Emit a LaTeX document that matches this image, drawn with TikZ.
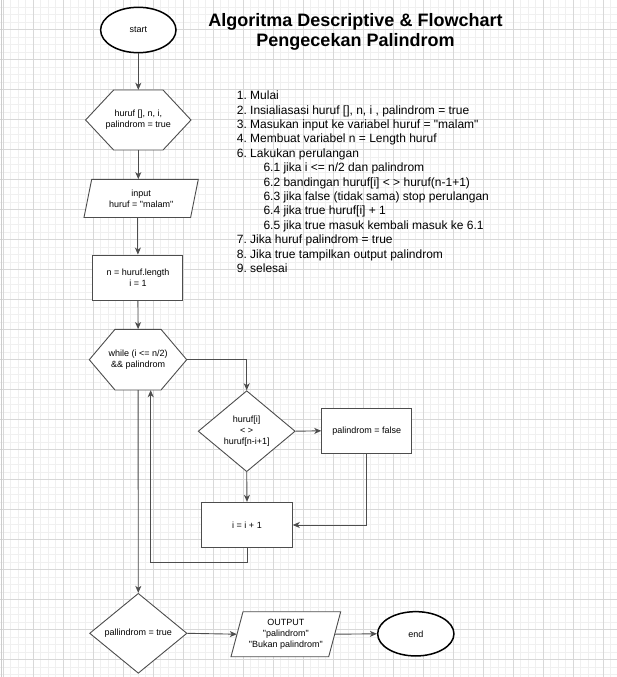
\documentclass[tikz,border=0pt]{standalone}
\usepackage{fontspec}
\setmainfont{Liberation Sans}
\usetikzlibrary{shapes.geometric,arrows.meta,calc}
\definecolor{lnc}{HTML}{4D4D4D}
\definecolor{gmin}{HTML}{F0F0F0}
\definecolor{gmaj}{HTML}{D8D8D8}
\frenchspacing
\begin{document}
\begin{tikzpicture}[x=1pt,y=-1pt,
  conn/.style={draw=lnc, line width=0.9pt, -{Stealth[length=7pt,width=6pt,inset=2pt]}},
  shp/.style={draw=lnc, line width=0.9pt, fill=white},
  txt/.style={font=\fontsize{9}{10.8}\selectfont, align=center, inner sep=0pt},
  term/.style={ellipse, draw=black, line width=1.5pt, fill=white, txt},
  procbox/.style={rectangle, shp, txt},
  decbox/.style={diamond, shp, txt},
  minorline/.style={draw=gmin, line width=0.8pt},
  majorline/.style={draw=gmaj, line width=0.8pt}
]
\useasboundingbox (0,0) rectangle (617,677);
\fill[white] (0,0) rectangle (617,677);
% grid
\foreach \k in {0,...,81} {\draw[minorline] ({3.3+7.5*\k},0) -- ({3.3+7.5*\k},677);}
\foreach \k in {1,...,90} {\draw[minorline] (0,{-0.5+7.5*\k}) -- (617,{-0.5+7.5*\k});}
\foreach \k in {0,...,20} {\draw[majorline] ({3.3+30*\k},0) -- ({3.3+30*\k},677);}
\foreach \k in {1,...,22} {\draw[majorline] (0,{-0.5+30*\k}) -- (617,{-0.5+30*\k});}
\draw[draw=gray!40, line width=1.2pt] (1.2,0) -- (1.2,677);

% title
\node[font=\bfseries\fontsize{18}{20.5}\selectfont, align=center, anchor=north, inner sep=0pt] (title) at (355.5,12.8)
  {Algoritma Descriptive \& Flowchart\\Pengecekan Palindrom};

% description
\node[anchor=north west, inner sep=0pt, align=left, font=\fontsize{12}{14.4}\selectfont] (desc) at (236.7,90.8)
  {1. Mulai\\
   2. Insialiasasi huruf [], n, i , palindrom = true\\
   3. Masukan input ke variabel huruf = \textquotedbl malam\textquotedbl\\
   4. Membuat variabel n = Length huruf\\
   6. Lakukan perulangan\\
   \hspace*{26.6pt}6.1 jika i <= n/2 dan palindrom\\
   \hspace*{26.6pt}6.2 bandingan huruf[i] < > huruf(n-1+1)\\
   \hspace*{26.6pt}6.3 jika false (tidak sama) stop perulangan\\
   \hspace*{26.6pt}6.4 jika true huruf[i] + 1\\
   \hspace*{26.6pt}6.5 jika true masuk kembali masuk ke 6.1\\
   7. Jika huruf palindrom = true\\
   8. Jika true tampilkan output palindrom\\
   9. selesai};

% start
\node[term, minimum width=75.4pt, minimum height=45.4pt] (start) at (138.3,30) {start};

% init hexagon
\draw[shp] (85.6,120) -- (113.6,90) -- (163,90) -- (191,120) -- (163,150) -- (113.6,150) -- cycle;
\node[txt, minimum width=105.4pt, minimum height=60pt] (init) at (138.3,120) {huruf [], n, i,\\palindrom = true};

% input parallelogram
\draw[shp] (91.7,179.3) -- (198.3,179.3) -- (190.6,217.5) -- (84,217.5) -- cycle;
\node[txt, minimum width=106.6pt, minimum height=38.2pt] (inp) at (141.2,198.4) {input\\huruf = \textquotedbl malam\textquotedbl};

% length box
\node[procbox, minimum width=90pt, minimum height=45pt] (len) at (137.9,277.5) {n = huruf.length\\i = 1};

% while hexagon
\draw[shp] (89.3,359.7) -- (115,329.3) -- (161,329.3) -- (186.7,359.7) -- (161,390) -- (115,390) -- cycle;
\node[txt, minimum width=97.4pt, minimum height=60.7pt] (loop) at (138.1,359.65) {while (i <= n/2)\\\&\& palindrom};

% compare diamond
\node[decbox, minimum width=97pt, minimum height=81pt] (cmp) at (246.7,431.2) {huruf[i]\\< >\\huruf[n-i+1]};

% palindrom = false
\node[procbox, minimum width=90pt, minimum height=45pt] (pfalse) at (366.7,430.8) {palindrom = false};

% i = i + 1
\node[procbox, minimum width=90.6pt, minimum height=45.4pt] (inc) at (247,525) {i = i + 1};

% final check diamond
\node[decbox, minimum width=97.4pt, minimum height=80pt] (chk) at (138.3,633.3) {pallindrom = true};

% output parallelogram
\draw[shp] (243,611.7) -- (340.7,611.7) -- (328.7,656.7) -- (231,656.7) -- cycle;
\node[txt, minimum width=97.7pt, minimum height=45pt] (outp) at (285.85,634.2)
  {OUTPUT\\\textquotedbl palindrom\textquotedbl\\\textquotedbl Bukan palindrom\textquotedbl};

% end
\node[term, minimum width=76.3pt, minimum height=44.3pt] (stop) at (415.8,633.8) {end};

% connectors
\draw[conn] (start.south) -- (init.north);
\draw[conn] (init.south) -- (init.south |- inp.north);
\draw[conn] (len.north |- inp.south) -- (len.north);
\draw[conn] (len.south) -- (loop.north);
\draw[conn] (loop.east) -| (cmp.north);
\draw[conn] (cmp.east) -- (pfalse.west);
\draw[conn] (cmp.south) -- (inc.north);
\draw[conn] (pfalse.south) |- (inc.east);
\coordinate (back) at (150.7,562.3);
\draw[conn] (inc.south) |- (back) -- (back |- loop.south);
\draw[conn] (loop.south) -- (chk.north);
\draw[conn] (chk.east) -- (outp.west);
\draw[conn] (outp.east) -- (stop.west);
\end{tikzpicture}
\end{document}
